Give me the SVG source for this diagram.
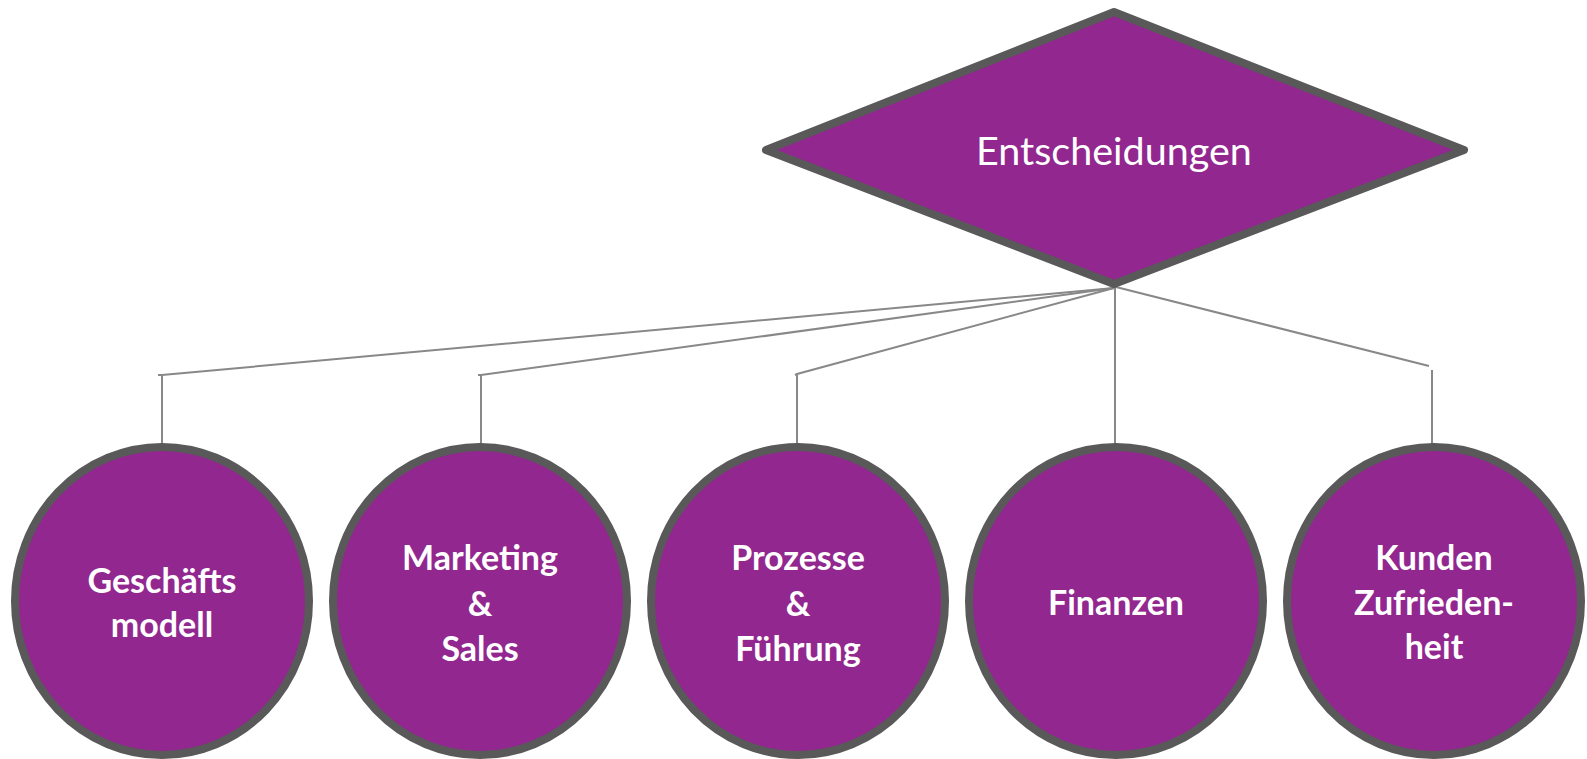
<svg xmlns="http://www.w3.org/2000/svg" width="1587" height="759" viewBox="0 0 1587 759">
<style>
.node{fill:#92278F;stroke:#595959;stroke-width:8;stroke-linejoin:round}
.lbl{fill:#ffffff;font-family:Lato,"Liberation Sans",sans-serif;font-weight:bold;font-size:34px;text-anchor:middle}
.conn{stroke:#888888;stroke-width:2;fill:none}
</style>
<rect width="1587" height="759" fill="#ffffff"/>
<g id="connectors">
<polyline class="conn" points="1114,288 162,375 158,375"/>
<line class="conn" x1="162" y1="375" x2="162" y2="446"/>
<polyline class="conn" points="1114,288 481,375 478,375"/>
<line class="conn" x1="481" y1="375" x2="481" y2="446"/>
<polyline class="conn" points="1114,288 797,374 795,375"/>
<line class="conn" x1="797" y1="374" x2="797" y2="446"/>
<line class="conn" x1="1115" y1="286" x2="1115" y2="446"/>
<line class="conn" x1="1116" y1="287" x2="1429" y2="366"/>
<line class="conn" x1="1432" y1="370" x2="1432" y2="446"/>
</g>
<g id="entscheidungen">
<polygon class="node" points="1114,12 1464,150 1114,284 766,150"/>
<text x="1114" y="165" fill="#ffffff" font-family="Lato,'Liberation Sans',sans-serif" font-size="39.5" text-anchor="middle">Entscheidungen</text>
</g>
<g id="geschaeftsmodell">
<ellipse class="node" cx="162" cy="601" rx="147" ry="154"/>
<text class="lbl" x="162" y="593">Geschäfts</text>
<text class="lbl" x="162" y="637">modell</text>
</g>
<g id="marketing">
<ellipse class="node" cx="480" cy="601" rx="147" ry="154"/>
<text class="lbl" x="480" y="570">Marketing</text>
<text class="lbl" x="480" y="616">&amp;</text>
<text class="lbl" x="480" y="661">Sales</text>
</g>
<g id="prozesse">
<ellipse class="node" cx="798" cy="601" rx="147" ry="154"/>
<text class="lbl" x="798" y="570">Prozesse</text>
<text class="lbl" x="798" y="616">&amp;</text>
<text class="lbl" x="798" y="661">Führung</text>
</g>
<g id="finanzen">
<ellipse class="node" cx="1116" cy="601" rx="147" ry="154"/>
<text class="lbl" x="1116" y="615">Finanzen</text>
</g>
<g id="kunden">
<ellipse class="node" cx="1434" cy="601" rx="147" ry="154"/>
<text class="lbl" x="1434" y="570">Kunden</text>
<text class="lbl" x="1434" y="615">Zufrieden-</text>
<text class="lbl" x="1434" y="659">heit</text>
</g>
</svg>
